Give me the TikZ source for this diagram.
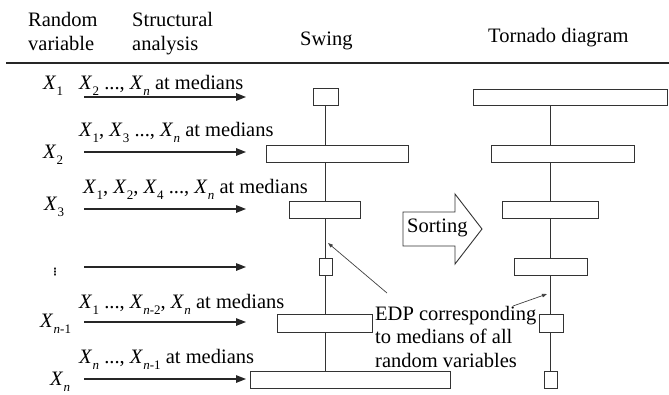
\documentclass[tikz,border=0pt]{standalone}
\usepackage{fontspec}
\setmainfont{Liberation Serif}
\newfontfamily\symfont{DejaVu Sans}
\usetikzlibrary{arrows.meta,backgrounds}
\newcommand{\xv}[1]{\textit{X}\kern0.3pt\raisebox{-6.5pt}{\fontsize{13}{13}\selectfont #1}}
\begin{document}
\begin{tikzpicture}[x=1pt,y=-1pt,
  every node/.style={inner sep=0pt, text=black},
  txt/.style={anchor=base west, font=\rmfamily\fontsize{20.5}{23.5}\selectfont},
  bar/.style={draw=black!80, line width=0.9pt, fill=white, minimum height=17pt},
  feed/.style={draw=black!85, line width=1.4pt, -{Triangle[length=10pt,width=7.5pt]}},
  note/.style={draw=black!75, line width=0.7pt, -{Triangle[length=5pt,width=3.5pt]}},
  axisline/.style={draw=black!80, line width=0.9pt},
  rule/.style={draw=black!85, line width=2.6pt}]
\useasboundingbox (0,0) rectangle (669,394);

% header
\node[txt] (h1) at (28,26) {Random};
\node[txt] (h2) at (28,50) {variable};
\node[txt] (h3) at (132,26) {Structural};
\node[txt] (h4) at (132,50) {analysis};
\node[txt] (h5) at (300,45) {Swing};
\node[txt] (h6) at (488,42) {Tornado diagram};
\coordinate (rl) at (6,63);
\coordinate (rr) at (669,63);
\draw[rule] (rl) -- (rr);

% swing bars
\node[bar, minimum width=25pt] (s1) at (325.5,97) {};
\node[bar, minimum width=142pt] (s2) at (337,153.5) {};
\node[bar, minimum width=71pt] (s3) at (324.5,210) {};
\node[bar, minimum width=13pt] (s4) at (325.5,266.5) {};
\node[bar, minimum width=95pt, minimum height=18pt] (s5) at (324.5,323) {};
\node[bar, minimum width=200pt] (s6) at (350,379.5) {};

% tornado bars
\node[bar, minimum width=194pt, minimum height=16pt] (t1) at (570,97) {};
\node[bar, minimum width=143pt] (t2) at (562.5,153.5) {};
\node[bar, minimum width=96pt] (t3) at (550,210) {};
\node[bar, minimum width=73pt] (t4) at (550.5,267) {};
\node[bar, minimum width=24pt, minimum height=18pt] (t5) at (551,323) {};
\node[bar, minimum width=13pt] (t6) at (550.5,379.5) {};

\begin{pgfonlayer}{background}
\draw[axisline] (s1.center) -- (s1.center |- s6.center);
\draw[axisline] (t6.center) -- (t6.center |- t1.center);
\end{pgfonlayer}

% row labels
\node[txt] (r1) at (43,89) {\xv{1}};
\node[txt] (r2) at (43,158) {\xv{2}};
\node[txt] (r3) at (44,210) {\xv{3}};
\node[font=\symfont\bfseries\fontsize{10}{10}\selectfont] (r4) at (55,272) {⋮};
\node[txt] (r5) at (40,327) {\xv{\textit{n}-1}};
\node[txt] (r6) at (50,385) {\xv{\textit{n}}};

% structural analysis labels
\node[txt] (l1) at (79,89) {\xv{2} ..., \xv{\textit{n}} at medians};
\node[txt] (l2) at (79,136) {\xv{1}, \xv{3} ..., \xv{\textit{n}} at medians};
\node[txt] (l3) at (83,193) {\xv{1}, \xv{2}, \xv{4} ..., \xv{\textit{n}} at medians};
\node[txt] (l5) at (79,308) {\xv{1} ..., \xv{\textit{n}-2}, \xv{\textit{n}} at medians};
\node[txt] (l6) at (79,363) {\xv{\textit{n}} ..., \xv{\textit{n}-1} at medians};

% feed arrows
\foreach \i/\y in {1/97,2/152,3/209,4/267,5/322,6/379}{
  \coordinate (a\i s) at (84,\y);
  \coordinate (a\i e) at (246,\y);
  \draw[feed] (a\i s) -- (a\i e);
}

% sorting arrow
\draw[axisline, fill=white, line join=miter] (403,212) -- (455,212) -- (455,194) -- (482,229)
  -- (455,264) -- (455,246) -- (403,246) -- cycle;
\node[txt] (sort) at (407,232) {Sorting};

% EDP note
\node[anchor=north west, align=left, font=\rmfamily\fontsize{20.5}{23.5}\selectfont] (edp) at (375,306)
  {EDP corresponding\\to medians of all\\random variables};
\coordinate (n1s) at (387,293);
\coordinate (n1e) at (328,243);
\coordinate (n2s) at (513,306);
\coordinate (n2e) at (547,294);
\draw[note] (n1s) -- (n1e);
\draw[note] (n2s) -- (n2e);
\end{tikzpicture}
\end{document}
